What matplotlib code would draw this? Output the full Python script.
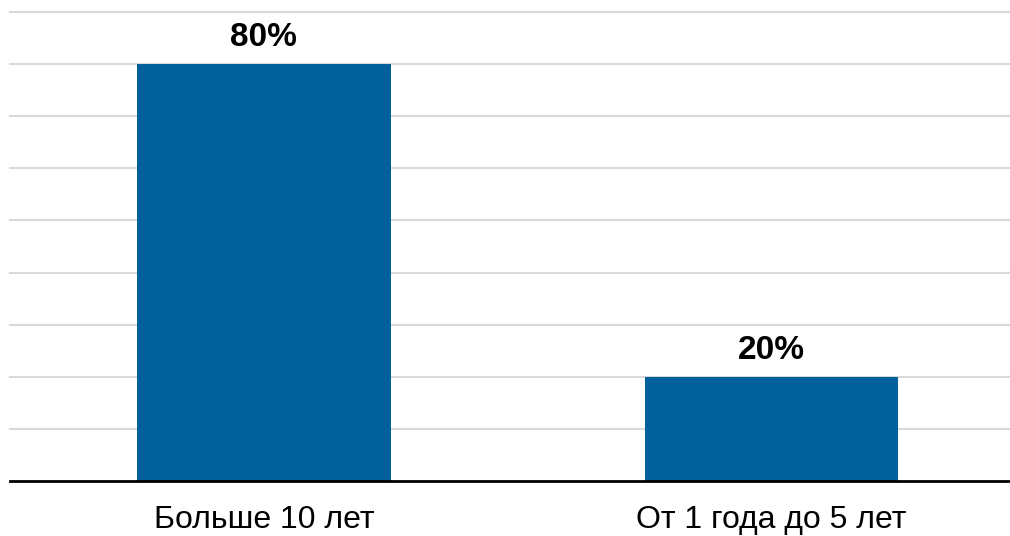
import matplotlib
matplotlib.use("Agg")
import matplotlib.pyplot as plt

# data
categories = ["Больше 10 лет", "От 1 года до 5 лет"]
shares = [80, 20]
labels = ["80%", "20%"]
grid_values = [10, 20, 30, 40, 50, 60, 70, 80, 90]

plt.rcParams['font.family'] = ['Liberation Sans', 'DejaVu Sans']

fig = plt.figure(figsize=(10.1, 5.36), dpi=100)
ax = fig.add_axes([10 / 1010, 1 - 481 / 536, 1 - 10 / 1010, 469 / 536])

x = list(range(len(categories)))
bars = ax.bar(x, shares, width=0.5, color="#00609C", zorder=3)

for b, lab in zip(bars, labels):
    ax.annotate(lab, (b.get_x() + b.get_width() / 2, b.get_height()),
                xytext=(0, 8), textcoords="offset points",
                ha="center", va="bottom", fontsize=24, fontweight="bold")

for g in grid_values:
    ax.axhline(g, color="#D9D9D9", linewidth=1.5, zorder=1, clip_on=False)

ax.set_xlim(-0.5, 1.47)
ax.set_ylim(0, 90)
ax.set_yticks([])
ax.set_xticks(x)
ax.set_xticklabels(categories, fontsize=23)
ax.tick_params(axis="x", length=0, pad=17.5)

for s in ["top", "right", "left"]:
    ax.spines[s].set_visible(False)
ax.spines["bottom"].set_linewidth(2)
ax.spines["bottom"].set_color("black")
ax.spines["bottom"].set_zorder(4)

fig.savefig("out.png", dpi=100)
